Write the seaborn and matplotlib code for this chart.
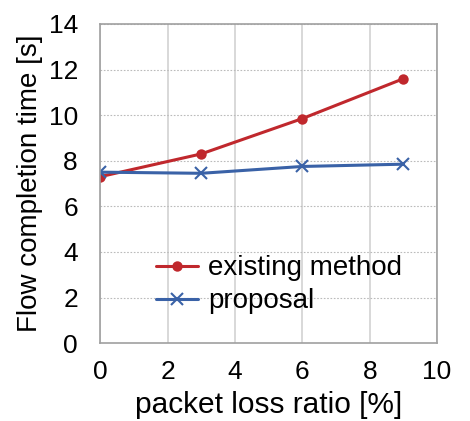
import pandas as pd
import seaborn as sns
from matplotlib import pyplot as plt

# packet loss ratio [%] and flow completion time [s]
loss = [0, 3, 6, 9]
existing = [7.3, 8.3, 9.85, 11.6]
proposal = [7.5, 7.45, 7.75, 7.85]

df = pd.DataFrame({"loss": loss, "existing": existing, "proposal": proposal})

sns.set_style("white", {"text.color": "black", "axes.labelcolor": "black",
                        "xtick.color": "black", "ytick.color": "black"})
plt.rcParams['font.family'] = ['Liberation Sans', 'DejaVu Sans']

fig = plt.figure(figsize=(4.7, 4.21), dpi=100)
ax = fig.add_axes([0.213, 0.185, 0.717, 0.758])

# two calls since seaborn won't mix filled and line markers
sns.lineplot(data=df, x="loss", y="existing", color="#C0282D", marker="o",
             linewidth=2.2, markersize=7.5, markeredgewidth=0,
             label="existing method", ax=ax)
sns.lineplot(data=df, x="loss", y="proposal", color="#3A62A7", marker="x",
             linewidth=2.2, markersize=8, markeredgewidth=1.5,
             markeredgecolor="#3A62A7", label="proposal", ax=ax)

ax.set_xlim(0, 10)
ax.set_ylim(0, 14)
ax.set_xticks(range(0, 11, 2))
ax.set_yticks(range(0, 15, 2))
ax.xaxis.grid(True, color="#d8d8d8", linestyle="-", linewidth=1.4)
ax.yaxis.grid(True, color="#bbbbbb", linestyle=(0, (1.5, 1.5)), linewidth=0.8)
for s in ax.spines.values():
    s.set_color("#a0a0a0")
    s.set_linewidth(1.2)
ax.tick_params(labelsize=19, length=0, labelcolor="black")
ax.tick_params(axis="y", pad=16)
ax.tick_params(axis="x", pad=12)
ax.set_xlabel("packet loss ratio [%]", fontsize=21.5, labelpad=5, color="black")
ax.set_ylabel("Flow completion time [s]", fontsize=20, labelpad=4, color="black")

leg = ax.legend(loc="upper left", bbox_to_anchor=(0.166, 0.275), frameon=False,
                fontsize=20, handlelength=1.5, handletextpad=0.36,
                labelspacing=0.25, borderpad=0, borderaxespad=0)
for t in leg.get_texts():
    t.set_color("black")

fig.savefig("out.png", dpi=100)
